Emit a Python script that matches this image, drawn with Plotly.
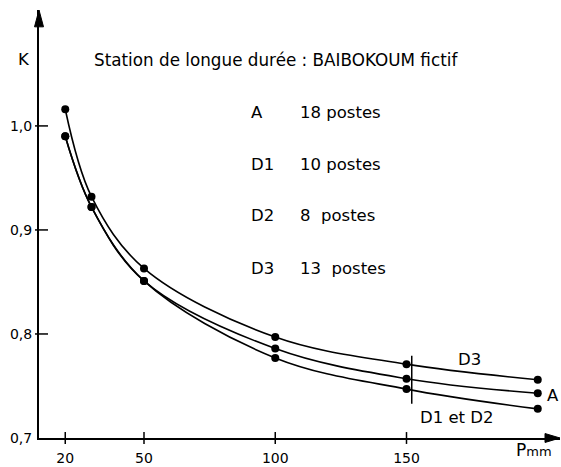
import plotly.graph_objects as go

# Rainfall depth P (mm) and reduction coefficient K for each station group
p_mm = [20, 30, 50, 100, 150, 200]
k_d3 = [1.016, 0.932, 0.863, 0.797, 0.771, 0.756]
k_a = [0.990, 0.922, 0.851, 0.786, 0.757, 0.743]
k_d1_d2 = [0.990, 0.922, 0.851, 0.777, 0.747, 0.728]

# Group names and station counts listed under the title
group_names = ["A", "D1", "D2", "D3"]
group_counts = ["18 postes", "10 postes", "8\u00a0\u00a0postes", "13\u00a0\u00a0postes"]

# Axis ticks
x_ticks = [20, 50, 100, 150]
x_tick_text = ["20", "50", "100", "150"]
y_ticks = [0.7, 0.8, 0.9, 1.0]
y_tick_text = ["0,7", "0,8", "0,9", "1,0"]

# Vertical reference bar crossing the curves near P = 150 mm
bar_x = 152
bar_y = [0.733, 0.779]

W, H = 561, 467
ML, MR, MT, MB = 39, 1, 10, 25
PW, PH = W - ML - MR, H - MT - MB
X_RANGE = [10, 10 + PW / 2.625]
Y_RANGE = [0.7, 0.7 + PH / 1050]

FONT = "DejaVu Sans"
INK = "black"
TXT = 16.5


def px_x(px):
    return (px - ML) / PW


def px_y(py):
    return (H - MB - py) / PH


fig = go.Figure()

for k_vals in (k_d3, k_a, k_d1_d2):
    fig.add_trace(go.Scatter(
        x=p_mm, y=k_vals, mode="lines+markers",
        line=dict(color=INK, width=1.6, shape="spline", smoothing=1.0),
        marker=dict(color=INK, size=8),
        showlegend=False, hoverinfo="skip",
    ))

shapes = []
# crossing tick marks
for xv in x_ticks:
    shapes.append(dict(type="line", xref="x", yref="paper", x0=xv, x1=xv,
                       y0=-6 / PH, y1=6 / PH, line=dict(color=INK, width=1.5)))
for yv in y_ticks[1:]:
    shapes.append(dict(type="line", xref="paper", yref="y", x0=-4 / PW, x1=9 / PW,
                       y0=yv, y1=yv, line=dict(color=INK, width=1.5)))
# arrowheads on both axes
hw_y, hl_y = 4.5 / PW, 17 / PH
shapes.append(dict(type="path", xref="paper", yref="paper",
                   path=f"M 0 1 L {-hw_y} {1 - hl_y} L {hw_y} {1 - hl_y} Z",
                   fillcolor=INK, line=dict(color=INK, width=1)))
hw_x, hl_x = 4.5 / PH, 15 / PW
shapes.append(dict(type="path", xref="paper", yref="paper",
                   path=f"M 1 0 L {1 - hl_x} {hw_x} L {1 - hl_x} {-hw_x} Z",
                   fillcolor=INK, line=dict(color=INK, width=1)))
# reference bar
shapes.append(dict(type="line", xref="x", yref="y", x0=bar_x, x1=bar_x,
                   y0=bar_y[0], y1=bar_y[1], line=dict(color=INK, width=1.5)))

annotations = []


def text(x, y, s, size=TXT, xanchor="left", xref="paper", yref="paper"):
    annotations.append(dict(x=x, y=y, xref=xref, yref=yref, text=s, showarrow=False,
                            xanchor=xanchor, yanchor="middle",
                            font=dict(family=FONT, size=size, color=INK)))


text(px_x(16), px_y(60), "K")
text(px_x(276), px_y(60), "Station de longue durée : BAIBOKOUM fictif",
     size=16.8, xanchor="center")

row_y = [113, 166, 217, 271]
for name, count, ry in zip(group_names, group_counts, row_y):
    text(px_x(249), px_y(ry), name)
    text(px_x(298), px_y(ry), count)

# curve labels
text(px_x(456), px_y(363), "D3")
text(px_x(545), px_y(399), "A")
text(px_x(418), px_y(421), "D1 et D2")
text(px_x(514), px_y(454), "P<span style='font-size:13px'>mm</span>", size=17)

fig.update_layout(
    width=W, height=H,
    margin=dict(l=ML, r=MR, t=MT, b=MB),
    paper_bgcolor="white", plot_bgcolor="white",
    font=dict(family=FONT, size=14, color=INK),
    shapes=shapes, annotations=annotations,
    xaxis=dict(range=X_RANGE, showgrid=False, zeroline=False,
               showline=True, linecolor=INK, linewidth=2,
               tickvals=x_ticks, ticktext=x_tick_text,
               ticks="outside", ticklen=6, tickcolor="rgba(0,0,0,0)",
               tickfont=dict(family=FONT, size=14, color=INK)),
    yaxis=dict(range=Y_RANGE, showgrid=False, zeroline=False,
               showline=True, linecolor=INK, linewidth=2,
               tickvals=y_ticks, ticktext=y_tick_text,
               ticks="outside", ticklen=2, tickcolor="rgba(0,0,0,0)",
               tickfont=dict(family=FONT, size=14, color=INK)),
)

fig.write_html("out.html")
